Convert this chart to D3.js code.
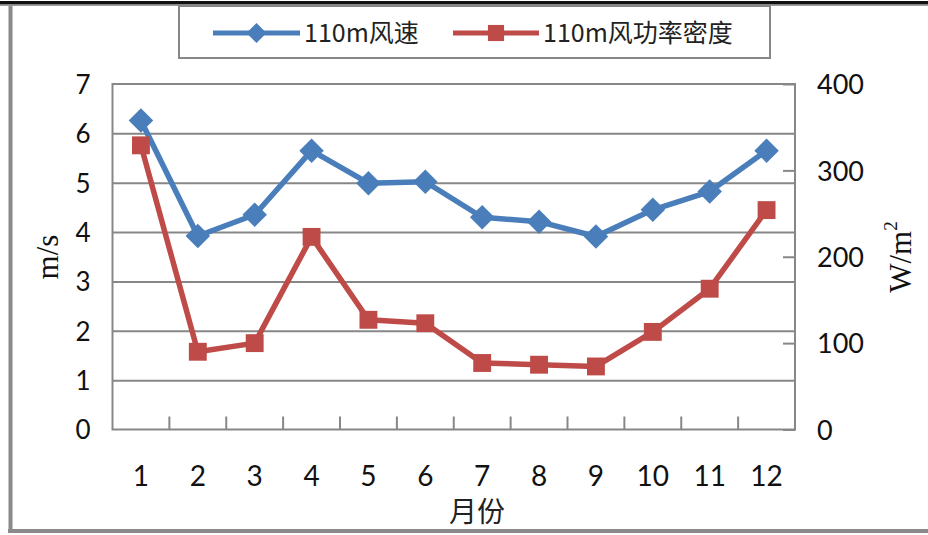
<!DOCTYPE html>
<html>
<head>
<meta charset="utf-8">
<script src="https://cdn.jsdelivr.net/npm/d3@7"></script>
<style>
  html, body { margin: 0; padding: 0; background: #fff; }
  svg { display: block; }
</style>
</head>
<body>
<svg id="chart" width="928" height="535"></svg>
<script>
// Monthly wind data at 110 m
const months = ["1","2","3","4","5","6","7","8","9","10","11","12"];
const windSpeed = [6.26, 3.92, 4.35, 5.65, 4.99, 5.02, 4.30, 4.21, 3.91, 4.45, 4.82, 5.65];       // m/s
const powerDensity = [329, 90, 100, 223, 127, 123, 77, 75, 73, 113, 163, 254];                    // W/m²
const leftTicks = [0, 1, 2, 3, 4, 5, 6, 7];
const rightTicks = [0, 100, 200, 300, 400];
const seriesNames = ["110m风速", "110m风功率密度"];

const blue = "#4a7ebb";
const red = "#be4b48";
const gridColor = "#878787";
const numFont = "Lato, 'Open Sans', sans-serif";
const cjkFont = "'Noto Sans CJK SC', sans-serif";
const serifFont = "'Liberation Serif', 'DejaVu Serif', serif";

const svg = d3.select("#chart");

// plot area
const L = 112.5, R = 795, T = 84, B = 429.5;

const x = d3.scaleBand().domain(months).range([L, R]);
const yL = d3.scaleLinear().domain([0, 7]).range([B, T]);
const yR = d3.scaleLinear().domain([0, 400]).range([B, T]);
const cx = d => x(d) + x.bandwidth() / 2;

// outer frame
svg.append("rect").attr("x", 0).attr("y", 1).attr("width", 928).attr("height", 3.5).attr("fill", "#111");
svg.append("line").attr("x1", 0).attr("x2", 928).attr("y1", 5.5).attr("y2", 5.5).attr("stroke", "#999").attr("stroke-width", 1);
svg.append("line").attr("x1", 10.5).attr("x2", 10.5).attr("y1", 6).attr("y2", 533).attr("stroke", "#8a8a8a").attr("stroke-width", 4);
svg.append("line").attr("x1", 8).attr("x2", 928).attr("y1", 531).attr("y2", 531).attr("stroke", "#8a8a8a").attr("stroke-width", 4);

// horizontal gridlines
svg.append("g")
  .attr("transform", `translate(${L},0)`)
  .call(d3.axisLeft(yL).tickValues(leftTicks.slice(1, -1)).tickSize(-(R - L)).tickFormat(""))
  .call(g => g.select(".domain").remove())
  .call(g => g.selectAll("line").attr("stroke", gridColor).attr("stroke-width", 2));

// left tick labels
svg.append("g")
  .attr("transform", `translate(${L},0)`)
  .call(d3.axisLeft(yL).tickValues(leftTicks).tickSize(0).tickPadding(22).tickFormat(d3.format("d")))
  .call(g => g.select(".domain").remove())
  .call(g => g.selectAll("text").attr("font-family", numFont).attr("font-size", 26).attr("fill", "#111").attr("dy", "0.36em"));

// right axis: inner ticks and labels
svg.append("g")
  .attr("transform", `translate(${R},0)`)
  .call(d3.axisRight(yR).tickValues(rightTicks).tickSizeInner(-12).tickSizeOuter(0).tickPadding(22).tickFormat(d3.format("d")))
  .call(g => g.select(".domain").remove())
  .call(g => g.selectAll("line").attr("stroke", gridColor).attr("stroke-width", 2))
  .call(g => g.selectAll("text").attr("x", 22).attr("font-family", numFont).attr("font-size", 27).attr("fill", "#111").attr("dy", "0.36em"));

// bottom axis: ticks at category boundaries, labels at centres
svg.append("g")
  .selectAll("line")
  .data(months.slice(1))
  .join("line")
  .attr("x1", d => x(d)).attr("x2", d => x(d))
  .attr("y1", B).attr("y2", B - 13)
  .attr("stroke", gridColor).attr("stroke-width", 2);

svg.append("g")
  .attr("transform", `translate(0,${B})`)
  .call(d3.axisBottom(x).tickSize(0).tickPadding(0))
  .call(g => g.select(".domain").remove())
  .call(g => g.selectAll("text").attr("y", 56).attr("dy", 0).attr("font-family", numFont).attr("font-size", 28).attr("fill", "#111"));

// plot border
svg.append("rect")
  .attr("x", L).attr("y", T).attr("width", R - L).attr("height", B - T)
  .attr("fill", "none").attr("stroke", gridColor).attr("stroke-width", 2);

// axis titles
svg.append("text")
  .attr("transform", `translate(58,257) rotate(-90)`)
  .attr("text-anchor", "middle")
  .attr("font-family", serifFont).attr("font-size", 31).attr("fill", "#111")
  .text("m/s");

const wt = svg.append("text")
  .attr("transform", `translate(911,257) rotate(-90)`)
  .attr("text-anchor", "middle")
  .attr("font-family", serifFont).attr("font-size", 31).attr("fill", "#111");
wt.append("tspan").text("W/m");
wt.append("tspan").attr("font-size", 19).attr("dy", "-0.75em").text("2");

svg.append("text")
  .attr("x", 477).attr("y", 522)
  .attr("text-anchor", "middle")
  .attr("font-family", cjkFont).attr("font-size", 28).attr("fill", "#222")
  .text("月份");

// series lines
const lineL = d3.line().x((d, i) => cx(months[i])).y(d => yL(d));
const lineR = d3.line().x((d, i) => cx(months[i])).y(d => yR(d));

svg.append("path").datum(powerDensity)
  .attr("d", lineR).attr("fill", "none").attr("stroke", red).attr("stroke-width", 5.5).attr("stroke-linejoin", "round");
svg.append("path").datum(windSpeed)
  .attr("d", lineL).attr("fill", "none").attr("stroke", blue).attr("stroke-width", 5.5).attr("stroke-linejoin", "round");

const square = d3.symbol().type(d3.symbolSquare).size(320);

svg.append("g").selectAll("path")
  .data(powerDensity)
  .join("path")
  .attr("transform", (d, i) => `translate(${cx(months[i])},${yR(d)})`)
  .attr("d", square).attr("fill", red);

// diamonds: rotated squares
svg.append("g").selectAll("path")
  .data(windSpeed)
  .join("path")
  .attr("d", d3.symbol().type(d3.symbolSquare).size(300)).attr("fill", blue)
  .attr("transform", (d, i) => `translate(${cx(months[i])},${yL(d)}) rotate(45)`);

// legend
const legend = svg.append("g");
legend.append("rect")
  .attr("x", 179).attr("y", 6).attr("width", 591).attr("height", 52)
  .attr("fill", "#fff").attr("stroke", gridColor).attr("stroke-width", 2);

const legendItems = [
  { name: seriesNames[0], color: blue, x0: 213, x1: 300, marker: "diamond" },
  { name: seriesNames[1], color: red, x0: 453, x1: 539, marker: "square" }
];
const ly = 33;
legendItems.forEach(it => {
  legend.append("line")
    .attr("x1", it.x0).attr("x2", it.x1).attr("y1", ly).attr("y2", ly)
    .attr("stroke", it.color).attr("stroke-width", 5);
  const mid = (it.x0 + it.x1) / 2;
  if (it.marker === "diamond") {
    legend.append("path")
      .attr("transform", `translate(${mid},${ly}) rotate(45)`)
      .attr("d", d3.symbol().type(d3.symbolSquare).size(200)).attr("fill", it.color);
  } else {
    legend.append("path")
      .attr("transform", `translate(${mid},${ly})`)
      .attr("d", d3.symbol().type(d3.symbolSquare).size(260)).attr("fill", it.color);
  }
  legend.append("text")
    .attr("x", it.x1 + 4).attr("y", ly).attr("dy", "0.36em")
    .attr("font-family", cjkFont).attr("font-size", 25).attr("fill", "#222")
    .text(it.name);
});
</script>
</body>
</html>
